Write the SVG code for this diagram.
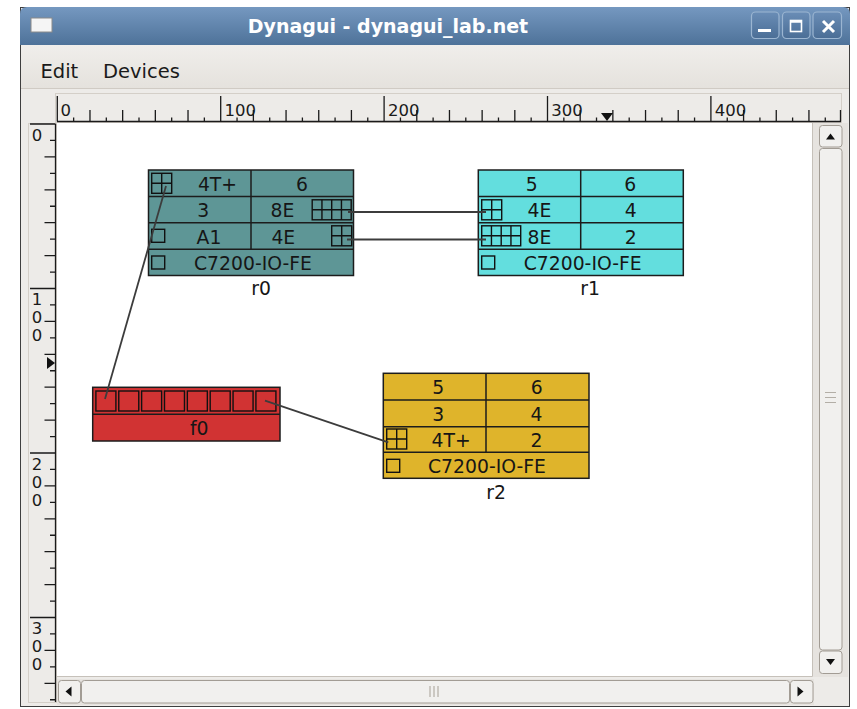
<svg xmlns="http://www.w3.org/2000/svg" width="857" height="709" viewBox="0 0 857 709">
<style>
.ui{font-family:"DejaVu Sans","Liberation Sans",sans-serif}
.nt{font-family:"DejaVu Sans","Liberation Sans",sans-serif;font-size:18.8px;fill:#161616;text-anchor:middle}
.rl{font-family:"DejaVu Sans","Liberation Sans",sans-serif;font-size:16.5px;fill:#1a1a1a}
.box{stroke:#1c1c1c;stroke-width:1.5}
.div{stroke:#1c1c1c;stroke-width:1.5;fill:none}
.ico{fill:none;stroke:#111;stroke-width:1.4}
.tick{stroke:#1a1a1a;stroke-width:1.3;fill:none}
.conn{stroke:#3c3c3c;stroke-width:1.8;fill:none}
.btn{fill:#f1f0ee;stroke:#a29c94;stroke-width:1}
.grip{stroke:#b3aea6;stroke-width:1.2}
.tb{fill:url(#tbg);stroke:#9bb5d1;stroke-width:1.2}
</style>
<defs>
<linearGradient id="tg" x1="0" y1="0" x2="0" y2="1"><stop offset="0" stop-color="#7598c0"/><stop offset="1" stop-color="#4e7299"/></linearGradient>
<linearGradient id="tbg" x1="0" y1="0" x2="0" y2="1"><stop offset="0" stop-color="#6a8db6"/><stop offset="1" stop-color="#4b6e96"/></linearGradient>
<linearGradient id="mg" x1="0" y1="0" x2="0" y2="1"><stop offset="0" stop-color="#f0eeeb"/><stop offset="1" stop-color="#e5e2dd"/></linearGradient>
<g id="g2"><rect x="0" y="0" width="20" height="20" class="ico"/><path d="M10,0V20M0,10H20" class="ico"/></g>
<g id="g8"><rect x="0" y="0" width="39" height="20" class="ico"/><path d="M9.75,0V20M19.5,0V20M29.25,0V20M0,10H39" class="ico"/></g>
<g id="sq"><rect x="0" y="0" width="13" height="13" class="ico"/></g>
<g id="fsq"><rect x="0" y="0" width="20" height="20" class="ico" stroke-width="1.6"/></g>
</defs>

<!-- window chrome -->
<rect x="0" y="0" width="857" height="709" fill="#ffffff"/>
<rect x="20.5" y="7.5" width="829" height="699" fill="#edebe8" stroke="#3e3e3e"/>
<path d="M20,45V14Q20,7 27,7H843Q850,7 850,14V45Z" fill="url(#tg)"/>
<rect x="31" y="18" width="21" height="14" fill="#f5f5f5" stroke="#8a8a8a"/>
<text x="388" y="33" class="ui" font-size="19" font-weight="bold" fill="#ffffff" text-anchor="middle">Dynagui - dynagui_lab.net</text>
<rect x="751.5" y="12" width="27.5" height="26.5" rx="4" class="tb"/>
<rect x="782.5" y="12" width="27.5" height="26.5" rx="4" class="tb"/>
<rect x="813" y="12" width="28.5" height="26.5" rx="4" class="tb"/>
<path d="M758,30.5H771" stroke="#fff" stroke-width="3"/>
<rect x="790.5" y="20.5" width="11" height="11" fill="none" stroke="#fff" stroke-width="1.6"/>
<path d="M790.5,21.5H801.5" stroke="#fff" stroke-width="2.5"/>
<path d="M823,21L834,32M834,21L823,32" stroke="#fff" stroke-width="3"/>
<rect x="21" y="45" width="828" height="43" fill="url(#mg)"/>
<path d="M21,88.5H849" stroke="#d0cbc4"/>
<text x="40.5" y="77.5" class="ui" font-size="19.5" fill="#1a1a1a">Edit</text>
<text x="103" y="77.5" class="ui" font-size="19.5" fill="#1a1a1a">Devices</text>

<!-- horizontal ruler -->
<rect x="55.5" y="93.5" width="786" height="29" fill="#edebe8" stroke="#d4cfc8"/>
<path d="M57,121.5H841" class="tick"/>
<path class="tick" d="M57.3,96V121.5M220.7,96V121.5M384.1,96V121.5M547.5,96V121.5M710.9,96V121.5"/>
<path class="tick" d="M89.98,110V121.5M122.66,110V121.5M155.34,110V121.5M188.02,110V121.5M253.38,110V121.5M286.06,110V121.5M318.74,110V121.5M351.42,110V121.5M416.78,110V121.5M449.46,110V121.5M482.14,110V121.5M514.82,110V121.5M580.18,110V121.5M612.86,110V121.5M645.54,110V121.5M678.22,110V121.5M743.58,110V121.5M776.26,110V121.5M808.94,110V121.5M840.5,110V121.5"/>
<path class="tick" d="M73.64,117.5V121.5M106.32,117.5V121.5M139,117.5V121.5M171.68,117.5V121.5M204.36,117.5V121.5M237.04,117.5V121.5M269.72,117.5V121.5M302.4,117.5V121.5M335.08,117.5V121.5M367.76,117.5V121.5M400.44,117.5V121.5M433.12,117.5V121.5M465.8,117.5V121.5M498.48,117.5V121.5M531.16,117.5V121.5M563.84,117.5V121.5M596.52,117.5V121.5M629.2,117.5V121.5M661.88,117.5V121.5M694.56,117.5V121.5M727.24,117.5V121.5M759.92,117.5V121.5M792.6,117.5V121.5M825.28,117.5V121.5"/>
<text x="60.5" y="116" class="rl">0</text>
<text x="224.5" y="116" class="rl">100</text>
<text x="387.9" y="116" class="rl">200</text>
<text x="551.3" y="116" class="rl">300</text>
<text x="714.7" y="116" class="rl">400</text>
<path d="M601,113H613L607,121Z" fill="#111"/>

<!-- vertical ruler -->
<rect x="28.5" y="123.5" width="28" height="579" fill="#edebe8" stroke="#d4cfc8"/>
<path d="M55.5,124V702" class="tick"/>
<path class="tick" d="M30,124H55.5M30,288.5H55.5M30,453H55.5M30,617.5H55.5"/>
<path class="tick" d="M44.5,156.9H55.5M44.5,189.8H55.5M44.5,222.7H55.5M44.5,255.6H55.5M44.5,321.4H55.5M44.5,354.3H55.5M44.5,387.2H55.5M44.5,420.1H55.5M44.5,485.9H55.5M44.5,518.8H55.5M44.5,551.7H55.5M44.5,584.6H55.5M44.5,650.4H55.5M44.5,683.3H55.5"/>
<path class="tick" d="M50,140.45H55.5M50,173.35H55.5M50,206.25H55.5M50,239.15H55.5M50,272.05H55.5M50,304.95H55.5M50,337.85H55.5M50,370.75H55.5M50,403.65H55.5M50,436.55H55.5M50,469.45H55.5M50,502.35H55.5M50,535.25H55.5M50,568.15H55.5M50,601.05H55.5M50,633.95H55.5M50,666.85H55.5M50,699.75H55.5"/>
<g class="rl" text-anchor="middle">
<text x="37" y="140.5">0</text>
<text x="37" y="305">1</text><text x="37" y="323">0</text><text x="37" y="341">0</text>
<text x="37" y="469.5">2</text><text x="37" y="487.5">0</text><text x="37" y="505.5">0</text>
<text x="37" y="634">3</text><text x="37" y="652">0</text><text x="37" y="670">0</text>
</g>
<path d="M47,357V369L55,363Z" fill="#111"/>

<!-- canvas -->
<rect x="57" y="123" width="755.5" height="553" fill="#ffffff"/>
<path d="M57,676.5H812.5V123" stroke="#c6c1ba" fill="none"/>

<!-- scrollbars -->
<rect x="813" y="123" width="35" height="554" fill="#e6e3df"/>
<rect x="819.5" y="125.5" width="22.5" height="21.5" rx="3" class="btn"/>
<rect x="819.5" y="148.5" width="22.5" height="501.5" rx="3" class="btn"/>
<rect x="819.5" y="651" width="22.5" height="22.5" rx="3" class="btn"/>
<path d="M826,139.5H835L830.5,133.5Z" fill="#111"/>
<path d="M826,659H835L830.5,665Z" fill="#111"/>
<path class="grip" d="M825,392.5H836M825,397.5H836M825,402.5H836"/>
<rect x="57" y="679" width="757" height="26" fill="#e6e3df"/>
<rect x="58.5" y="680.5" width="22" height="22.5" rx="3" class="btn"/>
<rect x="81.5" y="680.5" width="708" height="22.5" rx="3" class="btn"/>
<rect x="790.5" y="680.5" width="22.5" height="22.5" rx="3" class="btn"/>
<path d="M71.5,686.5V696.5L65.5,691.5Z" fill="#111"/>
<path d="M797.5,686.5V696.5L803.5,691.5Z" fill="#111"/>
<path class="grip" d="M430,686V697M434,686V697M438,686V697"/>

<!-- nodes -->
<g id="r0">
<rect x="148.5" y="170" width="205" height="105.5" fill="#5e9696" class="box"/>
<path class="div" d="M148.5,196.5H353.5M148.5,222.8H353.5M148.5,249.2H353.5M251,170V249.2"/>
<use href="#g2" x="151.7" y="173.3"/>
<use href="#g8" x="312.2" y="199.8"/>
<use href="#g2" x="331.7" y="225.8"/>
<use href="#sq" x="151.7" y="229.3"/>
<use href="#sq" x="151.7" y="256"/>
<text class="nt" x="217.5" y="190.8">4T+</text>
<text class="nt" x="302" y="190.8">6</text>
<text class="nt" x="203.3" y="217.2">3</text>
<text class="nt" x="282.5" y="217.2">8E</text>
<text class="nt" x="209" y="243.5">A1</text>
<text class="nt" x="283.3" y="243.5">4E</text>
<text class="nt" x="253" y="270">C7200-IO-FE</text>
<text class="nt" x="261" y="295">r0</text>
</g>
<g id="r1">
<rect x="478.3" y="170" width="205" height="105.5" fill="#63dede" class="box"/>
<path class="div" d="M478.3,196.5H683.3M478.3,222.8H683.3M478.3,249.2H683.3M580.7,170V249.2"/>
<use href="#g2" x="481.7" y="199.8"/>
<use href="#g8" x="481.7" y="225.8"/>
<use href="#sq" x="481.7" y="256"/>
<text class="nt" x="531.7" y="190.8">5</text>
<text class="nt" x="630.3" y="190.8">6</text>
<text class="nt" x="539.5" y="217.2">4E</text>
<text class="nt" x="630.7" y="217.2">4</text>
<text class="nt" x="539.5" y="243.5">8E</text>
<text class="nt" x="630.7" y="243.5">2</text>
<text class="nt" x="582.7" y="270">C7200-IO-FE</text>
<text class="nt" x="590" y="295">r1</text>
</g>
<g id="r2">
<rect x="383.3" y="373.3" width="205.7" height="105" fill="#dfb42b" class="box"/>
<path class="div" d="M383.3,400H589M383.3,426.7H589M383.3,452.3H589M486,373.3V452.3"/>
<use href="#g2" x="386.7" y="429"/>
<use href="#sq" x="386.7" y="459.3"/>
<text class="nt" x="438.3" y="394">5</text>
<text class="nt" x="536.7" y="394">6</text>
<text class="nt" x="438.3" y="420.5">3</text>
<text class="nt" x="536.5" y="420.5">4</text>
<text class="nt" x="451.2" y="446.8">4T+</text>
<text class="nt" x="536.5" y="446.8">2</text>
<text class="nt" x="487" y="473.2">C7200-IO-FE</text>
<text class="nt" x="496" y="498.5">r2</text>
</g>
<g id="f0">
<rect x="92.7" y="387.3" width="187.3" height="53.7" fill="#d13333" class="box"/>
<path class="div" d="M92.7,414.3H280"/>
<use href="#fsq" x="95.9" y="391"/>
<use href="#fsq" x="118.76" y="391"/>
<use href="#fsq" x="141.62" y="391"/>
<use href="#fsq" x="164.48" y="391"/>
<use href="#fsq" x="187.34" y="391"/>
<use href="#fsq" x="210.2" y="391"/>
<use href="#fsq" x="233.06" y="391"/>
<use href="#fsq" x="255.92" y="391"/>
<text class="nt" x="199.2" y="435">f0</text>
</g>

<!-- connectors -->
<g id="connectors">
<path class="conn" d="M348,212H486"/>
<path class="conn" d="M347,239.5H486"/>
<path class="conn" d="M166,186L105,399"/>
<path class="conn" d="M265,400.7L388.3,442.3"/>
</g>
</svg>
